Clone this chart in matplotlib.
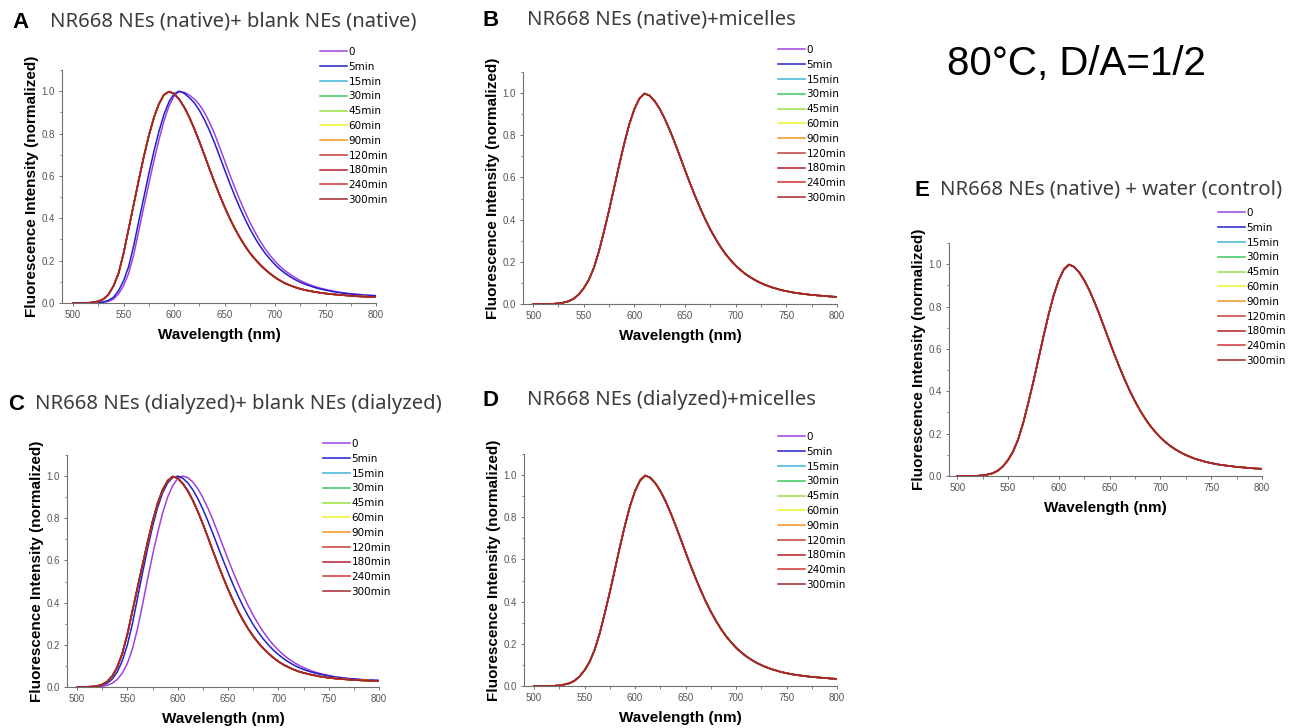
import matplotlib
matplotlib.use("Agg")
import matplotlib.pyplot as plt
import numpy as np
from matplotlib.ticker import MultipleLocator

# ---------------- data ----------------
wavelength = np.arange(500, 801, 5)  # nm, 61 points

series_labels = ['0', '5min', '15min', '30min', '45min', '60min', '90min',
                 '120min', '180min', '240min', '300min']

# common spectrum seen in panels B, D and E (peak ~609 nm)
main_curve = [0.000, 0.000, 0.000, 0.000, 0.001, 0.003, 0.007, 0.013, 0.025, 0.045,
              0.075, 0.115, 0.172, 0.250, 0.345, 0.445, 0.552, 0.660, 0.762, 0.853,
              0.925, 0.975, 0.998, 0.988, 0.962, 0.925, 0.878, 0.823, 0.763, 0.699,
              0.634, 0.571, 0.511, 0.454, 0.401, 0.353, 0.310, 0.271, 0.237, 0.208,
              0.182, 0.160, 0.141, 0.125, 0.111, 0.099, 0.089, 0.080, 0.073, 0.066,
              0.061, 0.056, 0.052, 0.049, 0.046, 0.043, 0.041, 0.039, 0.037, 0.035,
              0.034]

# panel A
a_0min = [0.000, 0.000, 0.000, 0.000, 0.000, 0.001, 0.003, 0.008, 0.018, 0.043,
          0.082, 0.140, 0.228, 0.340, 0.453, 0.563, 0.670, 0.770, 0.860, 0.930,
          0.978, 0.998, 0.995, 0.982, 0.963, 0.937, 0.900, 0.854, 0.800, 0.737,
          0.673, 0.608, 0.547, 0.488, 0.433, 0.382, 0.336, 0.294, 0.257, 0.225,
          0.197, 0.173, 0.152, 0.135, 0.120, 0.106, 0.095, 0.085, 0.077, 0.070,
          0.064, 0.059, 0.054, 0.050, 0.047, 0.044, 0.042, 0.040, 0.038, 0.036,
          0.035]
a_5min = [0.000, 0.000, 0.000, 0.000, 0.001, 0.002, 0.005, 0.012, 0.027, 0.058,
          0.105, 0.172, 0.270, 0.385, 0.498, 0.610, 0.715, 0.810, 0.890, 0.950,
          0.988, 1.000, 0.990, 0.970, 0.945, 0.910, 0.866, 0.815, 0.757, 0.694,
          0.630, 0.567, 0.507, 0.451, 0.399, 0.351, 0.308, 0.270, 0.236, 0.207,
          0.181, 0.159, 0.140, 0.124, 0.110, 0.098, 0.088, 0.080, 0.072, 0.066,
          0.061, 0.056, 0.052, 0.048, 0.045, 0.042, 0.040, 0.038, 0.036, 0.035,
          0.034]
a_late = [0.000, 0.000, 0.000, 0.001, 0.003, 0.008, 0.018, 0.040, 0.080, 0.140,
          0.235, 0.350, 0.465, 0.580, 0.690, 0.790, 0.875, 0.940, 0.983, 0.998,
          0.988, 0.962, 0.925, 0.878, 0.823, 0.763, 0.699, 0.634, 0.571, 0.511,
          0.454, 0.401, 0.353, 0.310, 0.271, 0.237, 0.208, 0.182, 0.159, 0.139,
          0.121, 0.106, 0.093, 0.083, 0.074, 0.067, 0.061, 0.056, 0.052, 0.048,
          0.045, 0.042, 0.040, 0.038, 0.036, 0.034, 0.032, 0.031, 0.030, 0.029,
          0.028]

# panel C
c_0min = [0.000, 0.000, 0.000, 0.000, 0.001, 0.003, 0.008, 0.018, 0.036, 0.066,
          0.112, 0.180, 0.275, 0.390, 0.510, 0.625, 0.730, 0.825, 0.900, 0.955,
          0.988, 1.000, 0.993, 0.972, 0.940, 0.898, 0.848, 0.792, 0.731, 0.668,
          0.606, 0.546, 0.489, 0.436, 0.386, 0.340, 0.299, 0.262, 0.229, 0.200,
          0.175, 0.153, 0.134, 0.118, 0.104, 0.092, 0.082, 0.073, 0.066, 0.060,
          0.055, 0.050, 0.046, 0.043, 0.040, 0.038, 0.036, 0.034, 0.033, 0.032,
          0.031]
c_5min = [0.000, 0.000, 0.000, 0.001, 0.003, 0.008, 0.018, 0.038, 0.072, 0.125,
          0.200, 0.300, 0.420, 0.540, 0.655, 0.760, 0.850, 0.920, 0.967, 0.993,
          1.000, 0.990, 0.968, 0.935, 0.893, 0.843, 0.787, 0.727, 0.665, 0.603,
          0.543, 0.486, 0.432, 0.382, 0.337, 0.296, 0.260, 0.228, 0.200, 0.175,
          0.154, 0.135, 0.119, 0.105, 0.093, 0.083, 0.075, 0.068, 0.062, 0.057,
          0.052, 0.048, 0.045, 0.042, 0.040, 0.038, 0.036, 0.034, 0.033, 0.032,
          0.031]
c_late = [0.000, 0.000, 0.001, 0.002, 0.005, 0.012, 0.026, 0.052, 0.095, 0.160,
          0.250, 0.360, 0.470, 0.578, 0.685, 0.785, 0.870, 0.935, 0.978, 0.998,
          0.990, 0.965, 0.930, 0.885, 0.832, 0.773, 0.710, 0.645, 0.582, 0.521,
          0.464, 0.410, 0.360, 0.316, 0.276, 0.241, 0.210, 0.183, 0.160, 0.139,
          0.121, 0.106, 0.094, 0.083, 0.074, 0.067, 0.061, 0.056, 0.051, 0.047,
          0.044, 0.041, 0.039, 0.037, 0.035, 0.033, 0.032, 0.031, 0.030, 0.029,
          0.028]

panel_titles = {
    'A': 'NR668 NEs (native)+ blank NEs (native)',
    'B': 'NR668 NEs (native)+micelles',
    'C': 'NR668 NEs (dialyzed)+ blank NEs (dialyzed)',
    'D': 'NR668 NEs (dialyzed)+micelles',
    'E': 'NR668 NEs (native) + water (control)',
}
panel_curves = {
    'A': [a_0min, a_5min] + [a_late] * 9,
    'B': [main_curve] * 11,
    'C': [c_0min, c_5min] + [c_late] * 9,
    'D': [main_curve] * 11,
    'E': [main_curve] * 11,
}
big_label = '80°C, D/A=1/2'
x_label = 'Wavelength (nm)'
y_label = 'Fluorescence Intensity (normalized)'

# ---------------- style ----------------
colors = ['#a040e0', '#2020c8', '#40b4d8', '#3cc85a', '#96e03c', '#f0f028',
          '#f0961e', '#c83c3c', '#b41e28', '#d23232', '#a0282d']

W, H = 1290, 728
fig = plt.figure(figsize=(W / 100, H / 100), dpi=100)


def rect(l, t, r, b):
    return [l / W, 1 - b / H, (r - l) / W, (b - t) / H]


# panel geometry in pixels: axes box, x-left limit, letter pos, title x, legend anchor
layout = {
    'A': dict(box=(62, 70, 376, 303), xmin=489, letter=(12, 22), tx=50, leg=(320, 47)),
    'B': dict(box=(523, 72, 837, 304), xmin=490, letter=(483, 20), tx=527, leg=(778, 45)),
    'C': dict(box=(67, 455, 379, 687), xmin=490, letter=(8, 404), tx=35, leg=(323, 439)),
    'D': dict(box=(524, 454, 837, 686), xmin=490, letter=(483, 400), tx=527, leg=(778, 432)),
    'E': dict(box=(949, 243, 1262, 476), xmin=492, letter=(915, 190), tx=940, leg=(1218, 208)),
}

for key, lay in layout.items():
    l, t, r, b = lay['box']
    ax = fig.add_axes(rect(l, t, r, b))
    for lab, curve, col in zip(series_labels, panel_curves[key], colors):
        ax.plot(wavelength, curve, color=col, lw=1.1, label=lab)
    ax.set_xlim(lay['xmin'], 800)
    ax.set_ylim(0, 1.1)
    ax.xaxis.set_major_locator(MultipleLocator(50))
    ax.xaxis.set_minor_locator(MultipleLocator(25))
    ax.yaxis.set_minor_locator(MultipleLocator(0.1))
    ax.set_yticks(np.arange(0, 1.01, 0.2))
    ax.yaxis.set_major_formatter(plt.FuncFormatter(lambda v, p: f'{v:.1f}'))
    for s in ['top', 'right']:
        ax.spines[s].set_visible(False)
    for s in ['left', 'bottom']:
        ax.spines[s].set_color('#707070')
        ax.spines[s].set_linewidth(0.8)
    ax.tick_params(which='major', direction='out', length=2.5, width=0.7,
                   color='#707070', labelsize=7, labelcolor='#555555', pad=2.5)
    ax.tick_params(which='minor', direction='out', length=1.8, width=0.6, color='#707070')
    for tl in ax.get_xticklabels() + ax.get_yticklabels():
        tl.set_family('Liberation Sans')
    ax.set_xlabel(x_label, fontsize=11, fontweight='bold', family='Liberation Sans')
    ax.xaxis.set_label_coords(0.5, -25 / (b - t))
    ax.set_ylabel(y_label, fontsize=11, fontweight='bold', family='Liberation Sans')
    ax.yaxis.set_label_coords(-30 / (r - l), 0.5)
    ax.yaxis.label.set_va('center')

    lx, ly = lay['leg']
    ax.legend(loc='upper left', bbox_to_anchor=(lx / W, 1 - ly / H),
              bbox_transform=fig.transFigure, frameon=False,
              prop={'family': 'DejaVu Sans', 'size': 7.5},
              handlelength=2.6, handletextpad=0.15, labelspacing=0.46,
              borderpad=0, borderaxespad=0)

    lxp, lyp = lay['letter']
    fig.text(lxp / W, 1 - lyp / H, key, fontsize=16, fontweight='bold',
             family='Liberation Sans', va='center', ha='left', color='black')
    fig.text(lay['tx'] / W, 1 - lyp / H, panel_titles[key], fontsize=14.6,
             family='Noto Sans', va='center', ha='left', color='#3c3c3c')

fig.text(947 / W, 1 - 64 / H, big_label, fontsize=29, family='Liberation Sans',
         va='center', ha='left', color='black')

fig.savefig('out.png', dpi=100)
